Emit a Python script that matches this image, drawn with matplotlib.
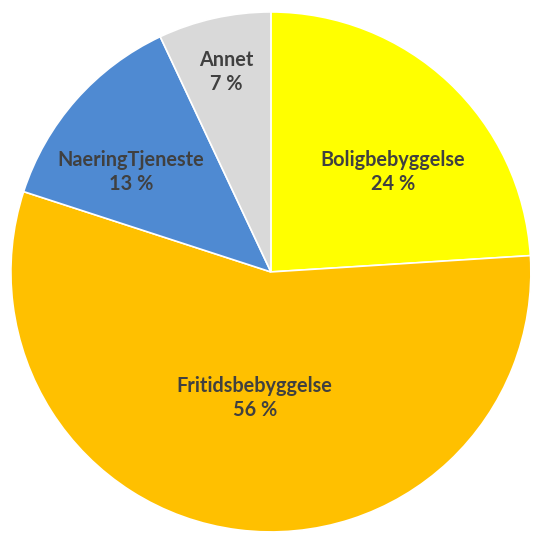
import matplotlib
matplotlib.use("Agg")
import matplotlib.pyplot as plt

categories = ["Boligbebyggelse", "Fritidsbebyggelse", "NaeringTjeneste", "Annet"]
values = [24, 56, 13, 7]
colors = ["#FFFF00", "#FFC000", "#4F8AD2", "#D9D9D9"]

# label anchor positions (pie-radius units)
label_pos = [(0.469, 0.385), (-0.062, -0.485), (-0.538, 0.385), (-0.173, 0.769)]

fig = plt.figure(figsize=(5.34, 5.34), dpi=100)
ax = fig.add_axes([0, 0, 1, 1])
ax.pie(values, colors=colors, startangle=90, counterclock=False, radius=1.0,
       wedgeprops=dict(edgecolor="white", linewidth=1.2))
total = sum(values)
for cat, v, (x, y) in zip(categories, values, label_pos):
    ax.text(x, y, f"{cat}\n{round(100 * v / total)} %", ha="center", va="center",
            fontsize=14.3, fontweight="bold", family=["Lato", "DejaVu Sans"],
            color="#404040", linespacing=1.22)
ax.set_xlim(-1.042, 1.012)
ax.set_ylim(-1.008, 1.046)
ax.set_aspect("auto")
ax.axis("off")
fig.savefig("out.png", dpi=100, facecolor="white")
